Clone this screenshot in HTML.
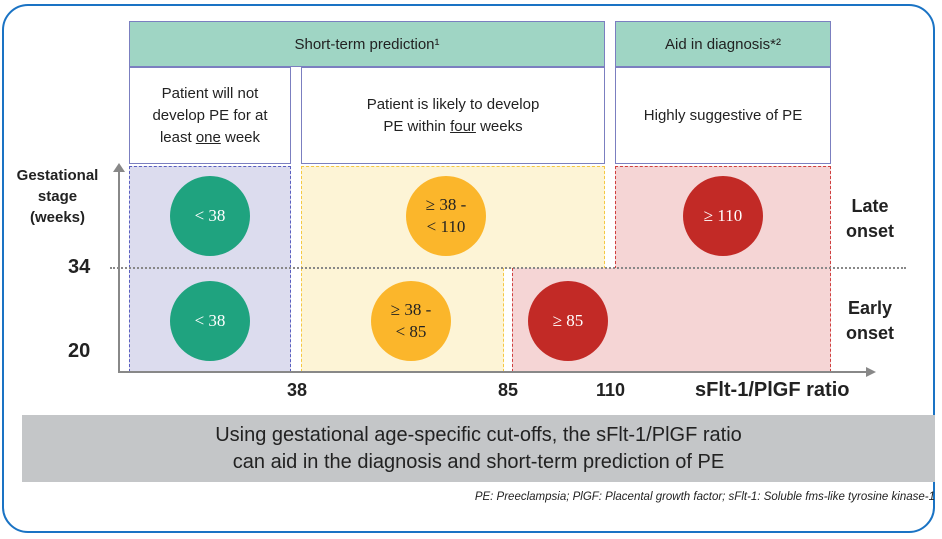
<!DOCTYPE html><html><head><style>
body{margin:0;width:942px;height:539px;background:#fff;position:relative;overflow:hidden;font-family:"Liberation Sans",sans-serif;color:#222}
div{position:absolute;box-sizing:border-box}
.c{display:flex;align-items:center;justify-content:center;text-align:center}
.circ{border-radius:50%;color:#fff;font-family:"Liberation Serif",serif;font-size:17px;line-height:22px}
.b{font-weight:bold}
</style></head><body>
<div style="left:2px;top:4px;width:933px;height:529px;border:2px solid #1a73c4;border-radius:26px"></div>
<div class="c" style="left:129px;top:21px;width:476px;height:46px;background:#9fd5c4;border:1px solid #7b7fc0;font-size:15px">Short-term prediction¹</div>
<div class="c" style="left:615px;top:21px;width:216px;height:46px;background:#9fd5c4;border:1px solid #7b7fc0;font-size:15px">Aid in diagnosis*²</div>
<div class="c" style="left:129px;top:67px;width:162px;height:97px;border:1px solid #7b7fc0;font-size:15px;line-height:22px"><span>Patient will not<br>develop PE for at<br>least <u>one</u> week</span></div>
<div class="c" style="left:301px;top:67px;width:304px;height:97px;border:1px solid #7b7fc0;font-size:15px;line-height:22px"><span>Patient is likely to develop<br>PE within <u>four</u> weeks</span></div>
<div class="c" style="left:615px;top:67px;width:216px;height:97px;border:1px solid #7b7fc0;font-size:15px">Highly suggestive of PE</div>
<div style="left:129px;top:166px;width:162px;height:206px;background:#dcdcee;border:1px dashed #5a5fc0"></div>
<div style="left:301px;top:166px;width:304px;height:103px;background:#fdf4d6;border:1px dashed #f5c842;border-bottom:none"></div>
<div style="left:301px;top:268px;width:203px;height:104px;background:#fdf4d6;border:1px dashed #f5c842;border-top:none"></div>
<div style="left:615px;top:166px;width:216px;height:103px;background:#f5d5d5;border:1px dashed #d04040;border-bottom:none"></div>
<div style="left:512px;top:268px;width:319px;height:104px;background:#f5d5d5;border:1px dashed #d04040;border-top:none"></div>
<div style="left:110px;top:267px;width:796px;height:0;border-top:2px dotted #888"></div>
<div style="left:118px;top:168px;width:2px;height:205px;background:#888"></div>
<div style="left:113px;top:163px;width:0;height:0;border-left:6px solid transparent;border-right:6px solid transparent;border-bottom:9px solid #888"></div>
<div style="left:118px;top:371px;width:750px;height:2px;background:#888"></div>
<div style="left:866px;top:367px;width:0;height:0;border-top:5px solid transparent;border-bottom:5px solid transparent;border-left:10px solid #888"></div>
<div class="c circ" style="left:170px;top:176px;width:80px;height:80px;background:#1fa37f">&lt; 38</div>
<div class="c circ" style="left:170px;top:281px;width:80px;height:80px;background:#1fa37f">&lt; 38</div>
<div class="c circ" style="left:406px;top:176px;width:80px;height:80px;background:#fbb62b;color:#222">≥ 38 -<br>&lt; 110</div>
<div class="c circ" style="left:371px;top:281px;width:80px;height:80px;background:#fbb62b;color:#222">≥ 38 -<br>&lt; 85</div>
<div class="c circ" style="left:683px;top:176px;width:80px;height:80px;background:#c22a26">≥ 110</div>
<div class="c circ" style="left:528px;top:281px;width:80px;height:80px;background:#c22a26">≥ 85</div>
<div class="c b" style="left:5px;top:165px;width:105px;height:62px;font-size:15px;line-height:21px">Gestational<br>stage<br>(weeks)</div>
<div class="b" style="left:68px;top:256px;font-size:20px">34</div>
<div class="b" style="left:68px;top:340px;font-size:20px">20</div>
<div class="b" style="left:846px;top:194px;font-size:18px;line-height:25px;text-align:center">Late<br>onset</div>
<div class="b" style="left:846px;top:296px;font-size:18px;line-height:25px;text-align:center">Early<br>onset</div>
<div class="b" style="left:287px;top:380px;font-size:18px">38</div>
<div class="b" style="left:498px;top:380px;font-size:18px">85</div>
<div class="b" style="left:596px;top:380px;font-size:18px">110</div>
<div class="b" style="left:695px;top:379px;font-size:20px">sFlt-1/PlGF ratio</div>
<div class="c" style="left:22px;top:415px;width:913px;height:67px;background:#c4c6c8;font-size:20px;line-height:27px">Using gestational age-specific cut-offs, the sFlt-1/PlGF ratio<br>can aid in the diagnosis and short-term prediction of PE</div>
<div style="right:7px;top:491px;font-size:11.5px;font-style:italic;white-space:nowrap">PE: Preeclampsia; PlGF: Placental growth factor; sFlt-1: Soluble fms-like tyrosine kinase-1</div>
</body></html>
